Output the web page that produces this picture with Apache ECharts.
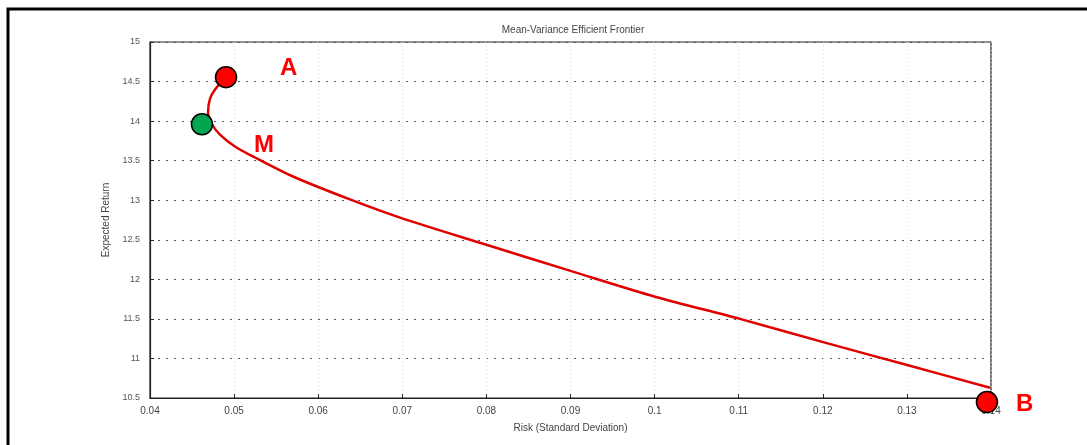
<!DOCTYPE html>
<html>
<head>
<meta charset="utf-8">
<script src="https://cdn.jsdelivr.net/npm/echarts@6/dist/echarts.min.js"></script>
<style>html,body{margin:0;padding:0;background:#fff}#c{width:1087px;height:445px}</style>
</head>
<body>
<div id="c"></div>
<script>
// Frontier: risk (std dev) and expected return
const frontierRisk   = [0.04904, 0.04773, 0.04713, 0.04690, 0.04737, 0.04832, 0.05010, 0.05248, 0.05700, 0.06378, 0.06973, 0.07990, 0.09020, 0.10005, 0.11015, 0.12026, 0.13024, 0.13988];
const frontierReturn = [14.556, 14.40, 14.28, 14.11, 13.96, 13.83, 13.68, 13.54, 13.30, 13.01, 12.78, 12.44, 12.10, 11.78, 11.50, 11.20, 10.91, 10.63];
// Highlighted portfolios
const pointNames  = ['A', 'M', 'B'];
const pointRisk   = [0.04904, 0.04618, 0.13952];
const pointReturn = [14.556, 13.96, 10.449];
const pointColors = ['#ff0000', '#00a650', '#ff0000'];
// Tick labels
const xTickLabels = ['0.04','0.05','0.06','0.07','0.08','0.09','0.1','0.11','0.12','0.13','0.14'];
const yTickLabels = ['10.5','11','11.5','12','12.5','13','13.5','14','14.5','15'];

const chart = echarts.init(document.getElementById('c'));
const lineData = frontierRisk.map((x, i) => [x, frontierReturn[i]]);
const font = 'Liberation Sans, Arial, sans-serif';
chart.setOption({
  animation: false,
  title: {
    text: 'Mean-Variance Efficient Frontier',
    left: 568, top: 20, textAlign: 'center',
    textStyle: {fontSize: 10, fontWeight: 'normal', color: '#444', fontFamily: font}
  },
  grid: {left: 150, right: 96, top: 42, bottom: 47, show: true, borderColor: '#222', borderWidth: 1.2},
  xAxis: {
    type: 'value', min: 0.04, max: 0.14, interval: 0.01,
    name: 'Risk (Standard Deviation)', nameLocation: 'middle', nameGap: 25,
    nameTextStyle: {fontSize: 10, color: '#444', fontFamily: font},
    axisLine: {show: true, lineStyle: {color: '#222', width: 1.2}},
    axisTick: {show: true, inside: true, length: 4, lineStyle: {color: '#222'}},
    axisLabel: {fontSize: 10, color: '#444', fontFamily: font, margin: 8,
      formatter: (v) => xTickLabels[Math.round((v - 0.04) / 0.01)]},
    splitLine: {show: true, lineStyle: {color: '#d8d8d8', type: [1, 3], width: 1}}
  },
  yAxis: {
    type: 'value', min: 10.5, max: 15, interval: 0.5,
    name: 'Expected Return', nameLocation: 'middle', nameGap: 30, nameRotate: 90,
    nameTextStyle: {fontSize: 10, color: '#444', fontFamily: font},
    axisLine: {show: true, lineStyle: {color: '#222', width: 1.2}},
    axisTick: {show: true, inside: true, length: 4, lineStyle: {color: '#222'}},
    axisLabel: {fontSize: 9, color: '#555', fontFamily: font, margin: 10,
      formatter: (v) => yTickLabels[Math.round((v - 10.5) / 0.5)]},
    splitLine: {show: true, lineStyle: {color: '#555', type: [2, 6], width: 1}}
  },
  series: [
    {
      type: 'line', data: lineData, smooth: 0.3, showSymbol: false,
      lineStyle: {color: '#e00000', width: 2.5}, z: 3
    },
    {
      type: 'scatter', clip: false, z: 5,
      data: pointRisk.map((x, i) => ({value: [x, pointReturn[i]], itemStyle: {color: pointColors[i]}})),
      symbolSize: 21,
      itemStyle: {borderColor: '#000', borderWidth: 1.5, opacity: 1}
    }
  ],
  graphic: [
    {type: 'rect', shape: {x: 8, y: 9, width: 1200, height: 500}, style: {fill: 'none', stroke: '#000', lineWidth: 3}, z: 10},
    {type: 'text', left: 280, top: 56, style: {text: pointNames[0], fill: '#ff0000', font: 'bold 24px ' + font}, z: 10},
    {type: 'text', left: 254, top: 133, style: {text: pointNames[1], fill: '#ff0000', font: 'bold 24px ' + font}, z: 10},
    {type: 'text', left: 1016, top: 392, style: {text: pointNames[2], fill: '#ff0000', font: 'bold 24px ' + font}, z: 10}
  ]
});
</script>
</body>
</html>
